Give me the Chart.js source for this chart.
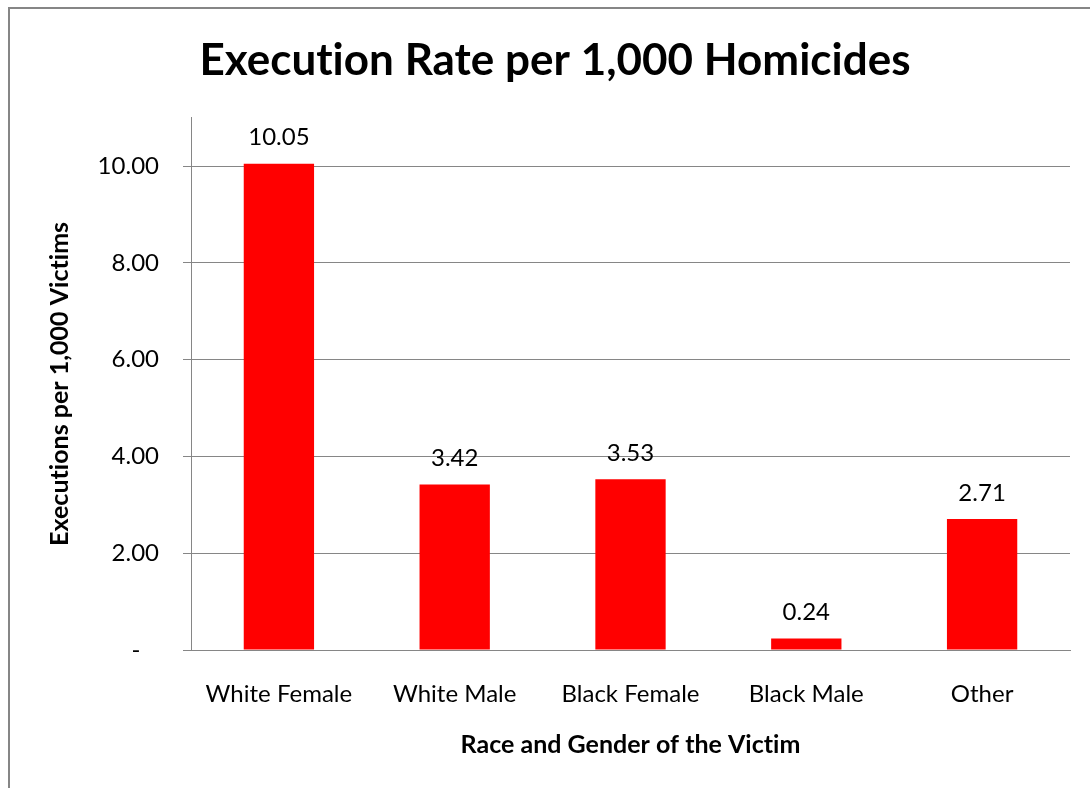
<!DOCTYPE html>
<html>
<head>
<meta charset="utf-8">
<script src="https://cdn.jsdelivr.net/npm/chart.js@4.4.1/dist/chart.umd.min.js"></script>
<style>
  body { margin: 0; background: #fff; overflow: hidden; }
  #frame {
    position: absolute; left: 8px; top: 7px; width: 1200px; height: 900px;
    border-left: 2px solid #868686; border-top: 2px solid #868686;
  }
  #wrap { position: absolute; left: 0; top: 0; width: 1090px; height: 788px; }
</style>
</head>
<body>
<div id="frame"></div>
<div id="wrap"><canvas id="chart"></canvas></div>
<script>
// chart data
const categories = ["White Female", "White Male", "Black Female", "Black Male", "Other"];
const rates = [10.05, 3.42, 3.53, 0.24, 2.71];
const yTicks = [0, 2, 4, 6, 8, 10];

const FONT = "Lato, 'Open Sans', sans-serif";

// tiny letter spacing keeps Lato from drawing the "ti" ligature
const noLigatures = {
  id: "noLigatures",
  beforeDraw(chart) { chart.ctx.letterSpacing = "0.01px"; }
};

// value labels above each bar
const barLabels = {
  id: "barLabels",
  afterDatasetsDraw(chart) {
    const ctx = chart.ctx;
    const meta = chart.getDatasetMeta(0);
    ctx.save();
    ctx.font = "24px " + FONT;
    ctx.fillStyle = "#000";
    ctx.textAlign = "center";
    ctx.textBaseline = "middle";
    meta.data.forEach((bar, i) => {
      ctx.fillText(rates[i].toFixed(2), bar.x, bar.y - 26);
    });
    ctx.restore();
  }
};

new Chart(document.getElementById("chart"), {
  type: "bar",
  data: {
    labels: categories,
    datasets: [{
      data: rates,
      backgroundColor: "#ff0000",
      borderWidth: 0,
      barPercentage: 0.4,
      categoryPercentage: 1.0
    }]
  },
  options: {
    responsive: true,
    maintainAspectRatio: false,
    animation: false,
    layout: { padding: { left: 40, right: 20, top: 0, bottom: 0 } },
    plugins: {
      legend: { display: false },
      tooltip: { enabled: false },
      title: {
        display: true,
        text: "Execution Rate per 1,000 Homicides",
        color: "#000",
        font: { family: FONT, size: 44, weight: "bold" },
        padding: { top: 34, bottom: 31 }
      }
    },
    scales: {
      x: {
        grid: { display: false, drawTicks: false },
        border: { display: true, color: "#868686", width: 1 },
        ticks: { color: "#000", font: { family: FONT, size: 24 }, padding: 30, maxRotation: 0 },
        title: {
          display: true,
          text: "Race and Gender of the Victim",
          color: "#000",
          font: { family: FONT, size: 25, weight: "bold" },
          padding: { top: 0, bottom: 28 }
        },
        afterFit(scale) { scale.height = 138; }
      },
      y: {
        min: 0,
        max: 11,
        ticks: {
          stepSize: 2,
          color: "#000",
          font: { family: FONT, size: 24 },
          padding: 24,
          callback: (v) => v === 0 ? "-   " : v.toFixed(2)
        },
        afterBuildTicks(scale) {
          scale.ticks = yTicks.map(v => ({ value: v }));
        },
        grid: { color: "#868686", lineWidth: 1, drawTicks: true, tickLength: 8 },
        border: { display: true, color: "#868686", width: 1 },
        title: {
          display: true,
          text: "Executions per 1,000 Victims",
          color: "#000",
          font: { family: FONT, size: 25, weight: "bold" },
          padding: { top: 5, bottom: 0 }
        },
        afterFit(scale) { scale.width = 151; }
      }
    }
  },
  plugins: [noLigatures, barLabels]
});
</script>
</body>
</html>
